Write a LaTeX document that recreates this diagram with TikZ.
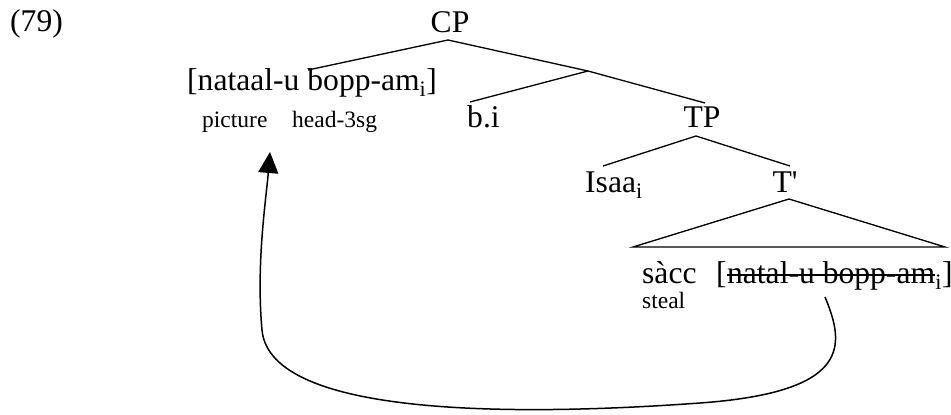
\documentclass[tikz,border=0pt]{standalone}
\usepackage{fontspec}
\setmainfont{Liberation Serif}
\usetikzlibrary{arrows.meta,calc}
\newcommand\lgfont{\fontsize{31.6}{37}\selectfont}
\newcommand\smfont{\fontsize{23.5}{28}\selectfont}
\begin{document}
\begin{tikzpicture}[x=1pt,y=-1pt,
  lbl/.style={inner sep=0pt,font=\lgfont},
  gl/.style={inner sep=0pt,font=\smfont},
  branch/.style={line width=1.3pt},
  move/.style={line width=1.5pt,-{Triangle[length=21pt,width=20pt]}}]
\useasboundingbox (0,0) rectangle (951,415);
\node[lbl,anchor=base west] (ex) at (10,31) {(79)};
\node[lbl,anchor=base] (cp) at (450,32) {CP};
\node[lbl,anchor=base west] (dp) at (187,90) {[nataal-u bopp-am\textsubscript{i}]};
\node[gl,anchor=base west] (g1) at (202,127) {picture};
\node[gl,anchor=base west] (g2) at (292,127) {head-3sg};
\node[lbl,anchor=base west] (bi) at (467,127) {b.i};
\node[lbl,anchor=base] (tp) at (702,127) {TP};
\node[lbl,anchor=base west] (isaa) at (585,192) {Isaa\textsubscript{i}};
\node[lbl,anchor=base] (tbar) at (785,192) {T\textquotesingle};
\node[lbl,anchor=base west] (sacc) at (642,283) {sàcc};
\node[gl,anchor=base west] (steal) at (642,308) {steal};
\node[lbl,anchor=base west] (lbr) at (716,283) {[};
\node[lbl,anchor=base west] (trace) at (lbr.base east) {natal-u bopp-am};
\node[lbl,anchor=base west] (rbr) at (trace.base east) {\textsubscript{i}]};
% connector ends
\coordinate (cpfoot) at (448,40);
\coordinate (cbar) at (588,71);
\coordinate (dptop) at (308,70);
\coordinate (bitop) at (470,102);
\coordinate (tptop) at (705,103);
\coordinate (tpfoot) at (696,136);
\coordinate (isaatop) at (603,166);
\coordinate (tbartop) at (790,166);
\coordinate (apex) at (789,199);
\coordinate (tril) at (633,247);
\coordinate (trir) at (945,247);
\coordinate (mvfrom) at (825,297);
\coordinate (mvto) at (270,152);
% tree
\draw[branch] (dptop) -- (cpfoot) -- (cbar) -- (tptop);
\draw[branch] (cbar) -- (bitop);
\draw[branch] (isaatop) -- (tpfoot) -- (tbartop);
\draw[branch] (apex) -- (tril) -- (trir) -- cycle;
% strike-through
\draw[line width=1.3pt] ($(trace.base west)+(0,-8)$) -- ($(trace.base east)+(0,-8)$);
% movement arrow
\draw[move] (mvfrom) .. controls (845,345) and (852,392) .. (700,403)
  .. controls (520,416) and (270,418) .. (262,330)
  .. controls (256,264) and (266,200) .. (mvto);
\end{tikzpicture}
\end{document}
